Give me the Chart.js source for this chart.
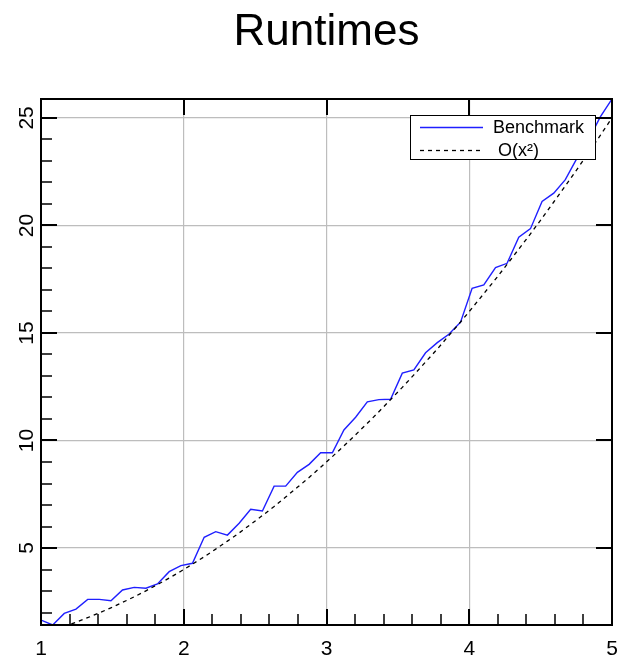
<!DOCTYPE html>
<html>
<head>
<meta charset="utf-8">
<script src="https://cdn.jsdelivr.net/npm/chart.js@4.4.1/dist/chart.umd.min.js"></script>
<style>
  html, body { margin: 0; padding: 0; background: #fff; }
  canvas { display: block; }
</style>
</head>
<body>
<canvas id="runtimeChart" width="624" height="657"></canvas>
<script>
// problem sizes (x) and measured runtimes
const sizes = [
  1.000, 1.082, 1.163, 1.245, 1.327, 1.408, 1.490, 1.571, 1.653, 1.735,
  1.816, 1.898, 1.980, 2.061, 2.143, 2.224, 2.306, 2.388, 2.469, 2.551,
  2.633, 2.714, 2.796, 2.878, 2.959, 3.041, 3.122, 3.204, 3.286, 3.367,
  3.449, 3.531, 3.612, 3.694, 3.776, 3.857, 3.939, 4.020, 4.102, 4.184,
  4.265, 4.347, 4.429, 4.510, 4.592, 4.673, 4.755, 4.837, 4.918, 5.000
];
const benchmark = [
  1.65, 1.42, 1.96, 2.16, 2.61, 2.61, 2.55, 3.05, 3.17, 3.13,
  3.33, 3.90, 4.18, 4.29, 5.50, 5.76, 5.60, 6.15, 6.80, 6.72,
  7.88, 7.88, 8.52, 8.89, 9.43, 9.43, 10.49, 11.08, 11.80, 11.90,
  11.92, 13.13, 13.28, 14.08, 14.55, 14.94, 15.50, 17.08, 17.23, 18.04,
  18.24, 19.45, 19.85, 21.12, 21.50, 22.13, 23.13, 24.00, 25.05, 25.88
];
const quadratic = [
  1.00, 1.17, 1.35, 1.55, 1.76, 1.98, 2.22, 2.47, 2.73, 3.01,
  3.30, 3.60, 3.92, 4.25, 4.59, 4.95, 5.32, 5.70, 6.10, 6.51,
  6.93, 7.37, 7.82, 8.28, 8.76, 9.25, 9.75, 10.27, 10.80, 11.34,
  11.90, 12.47, 13.05, 13.65, 14.25, 14.88, 15.51, 16.16, 16.83, 17.50,
  18.19, 18.90, 19.61, 20.34, 21.09, 21.84, 22.61, 23.39, 24.19, 25.00
];
const xTicks = [1, 2, 3, 4, 5];
const yTicks = [5, 10, 15, 20, 25];

const FONT = "'Liberation Sans', Arial, Helvetica, sans-serif";
const GRID = "#bdbdbd";

const toPoints = (ys) => sizes.map((x, i) => ({ x: x, y: ys[i] }));

// title, box frame, inward ticks, tick labels and the boxed legend
const decorPlugin = {
  id: "decor",
  afterDatasetsDraw(chart) {
    const { ctx, chartArea: a, scales: { x, y } } = chart;
    ctx.save();
    ctx.strokeStyle = "#000";

    // minor ticks, bottom and left only
    ctx.lineWidth = 1.5;
    ctx.beginPath();
    for (let k = 5; k <= 25; k++) {
      if (k % 5 === 0) continue;
      const px = Math.round(x.getPixelForValue(k / 5));
      ctx.moveTo(px, a.bottom);
      ctx.lineTo(px, a.bottom - 11);
    }
    for (let v = Math.ceil(y.min); v <= y.max; v++) {
      if (v % 5 === 0) continue;
      const py = Math.round(y.getPixelForValue(v));
      ctx.moveTo(a.left, py);
      ctx.lineTo(a.left + 11, py);
    }
    ctx.stroke();

    // major ticks on all four sides
    ctx.lineWidth = 2;
    ctx.beginPath();
    xTicks.forEach(v => {
      const px = Math.round(x.getPixelForValue(v));
      ctx.moveTo(px, a.bottom);
      ctx.lineTo(px, a.bottom - 16);
      ctx.moveTo(px, a.top);
      ctx.lineTo(px, a.top + 16);
    });
    yTicks.forEach(v => {
      const py = Math.round(y.getPixelForValue(v));
      ctx.moveTo(a.left, py);
      ctx.lineTo(a.left + 16, py);
      ctx.moveTo(a.right, py);
      ctx.lineTo(a.right - 16, py);
    });
    ctx.stroke();

    ctx.strokeRect(a.left, a.top, a.right - a.left, a.bottom - a.top);

    // tick labels
    ctx.fillStyle = "#000";
    ctx.font = "21px " + FONT;
    ctx.textAlign = "center";
    ctx.textBaseline = "alphabetic";
    xTicks.forEach(v => {
      ctx.fillText(String(v), x.getPixelForValue(v), a.bottom + 30);
    });
    yTicks.forEach(v => {
      ctx.save();
      ctx.translate(a.left - 8, y.getPixelForValue(v));
      ctx.rotate(-Math.PI / 2);
      ctx.fillText(String(v), 0, 0);
      ctx.restore();
    });

    // title
    ctx.font = "44px " + FONT;
    ctx.fillText("Runtimes", (a.left + a.right) / 2, 45);

    // legend
    const lx = a.right - 202, ly = a.top + 16, lw = 185, lh = 44;
    ctx.fillStyle = "#fff";
    ctx.fillRect(lx, ly, lw, lh);
    ctx.lineWidth = 1;
    ctx.strokeRect(lx + 0.5, ly + 0.5, lw, lh);
    ctx.font = "18px " + FONT;
    ctx.textAlign = "left";
    chart.data.datasets.forEach((ds, i) => {
      const rowY = ly + 12 + i * 23;
      ctx.strokeStyle = ds.borderColor;
      ctx.lineWidth = ds.borderWidth;
      ctx.setLineDash(ds.borderDash || []);
      ctx.beginPath();
      ctx.moveTo(lx + 10, rowY + 0.5);
      ctx.lineTo(lx + 73, rowY + 0.5);
      ctx.stroke();
      ctx.setLineDash([]);
      ctx.fillStyle = "#000";
      ctx.fillText(ds.label, lx + 83 + i * 5, rowY + 6);
    });
    ctx.restore();
  }
};

const ctx = document.getElementById("runtimeChart").getContext("2d");

new Chart(ctx, {
  type: "line",
  data: {
    datasets: [
      {
        label: "Benchmark",
        data: toPoints(benchmark),
        borderColor: "#1f1fff",
        borderWidth: 1.4,
        pointRadius: 0,
        tension: 0,
        order: 1
      },
      {
        label: "O(x\u00b2)",
        data: toPoints(quadratic),
        borderColor: "#000000",
        borderWidth: 1.3,
        borderDash: [4, 4],
        pointRadius: 0,
        tension: 0,
        order: 0
      }
    ]
  },
  options: {
    responsive: false,
    animation: false,
    devicePixelRatio: 1,
    layout: { padding: { top: 99, right: 12, left: 0, bottom: 0 } },
    plugins: {
      legend: { display: false },
      title: { display: false },
      tooltip: { enabled: false }
    },
    scales: {
      x: {
        type: "linear",
        min: 1,
        max: 5,
        afterBuildTicks: (s) => { s.ticks = xTicks.map(v => ({ value: v })); },
        afterFit: (s) => { s.height = 32; },
        ticks: { display: false },
        grid: { color: GRID, lineWidth: 1.2, drawTicks: false },
        border: { display: false }
      },
      y: {
        type: "linear",
        min: Math.min(...benchmark),
        max: Math.max(...benchmark),
        afterBuildTicks: (s) => { s.ticks = yTicks.map(v => ({ value: v })); },
        afterFit: (s) => { s.width = 41; },
        ticks: { display: false },
        grid: { color: GRID, lineWidth: 1.2, drawTicks: false },
        border: { display: false }
      }
    }
  },
  plugins: [decorPlugin]
});
</script>
</body>
</html>
